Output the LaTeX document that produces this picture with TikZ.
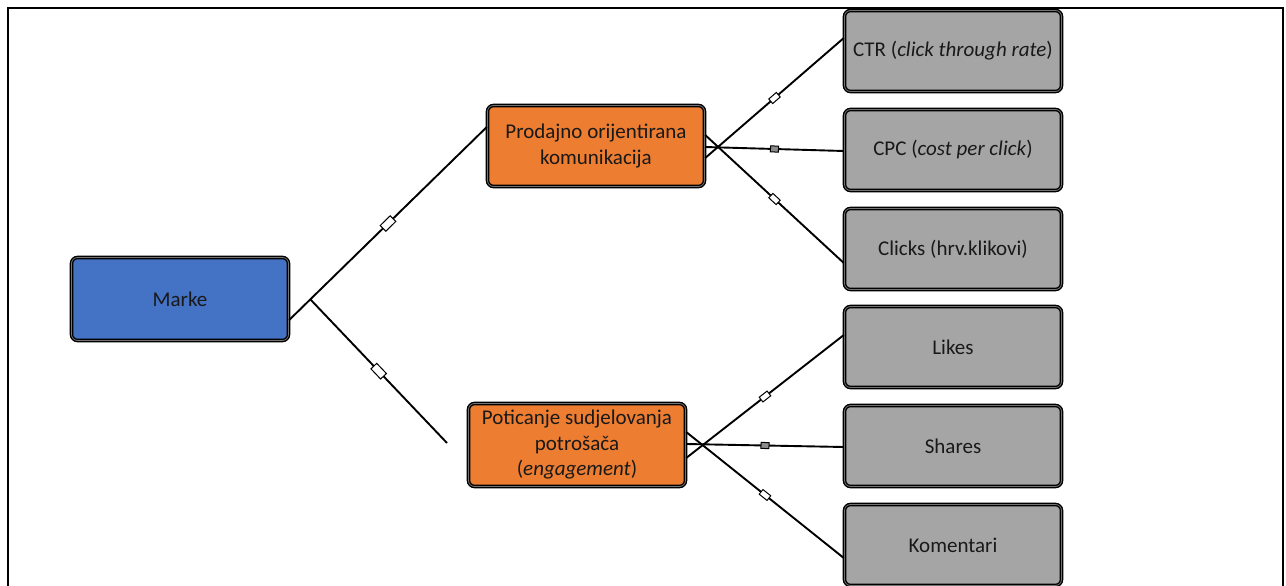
\documentclass[tikz,border=0pt]{standalone}
\usepackage{fontspec}
\setmainfont{Carlito}
\usetikzlibrary{calc,decorations.markings}
\tikzset{
  box/.style={rectangle, rounded corners=6pt, draw=black, line width=1.4pt,
    double=black!55, double distance=0.8pt, minimum width=217pt, minimum height=81pt,
    inner sep=2pt, align=center, text=black!90, font=\fontsize{21}{25.5}\selectfont},
  orangebox/.style={box, fill={rgb,255:red,237;green,125;blue,49}},
  greybox/.style={box, fill={rgb,255:red,165;green,165;blue,165}},
  conn/.style={line width=1.9pt, draw=black},
  bigmark/.style={postaction={decorate}, decoration={markings,
    mark=at position 0.5 with {\node[draw, line width=1pt, fill=white, minimum width=14pt, minimum height=8pt, inner sep=0pt, transform shape]{};}}},
  smallmark/.style={postaction={decorate}, decoration={markings,
    mark=at position 0.5 with {\node[draw, line width=1pt, fill=white, minimum width=10pt, minimum height=6pt, inner sep=0pt, transform shape]{};}}},
  sqmark/.style={postaction={decorate}, decoration={markings,
    mark=at position 0.5 with {\node[draw, line width=1pt, fill=black!45, minimum width=8pt, minimum height=6pt, inner sep=0pt, transform shape]{};}}}
}
\begin{document}
\begin{tikzpicture}[x=1pt, y=-1pt]
\useasboundingbox (0,0) rectangle (1286,586);
\fill[white] (0,0) rectangle (1286,586);
% frame
\draw[line width=1.5pt] (8,590) -- (8,8) -- (1283,8) -- (1283,590);

% nodes
\node[box, fill={rgb,255:red,68;green,114;blue,196}, minimum height=83pt] (M) at (180,299) {Marke};
\node[orangebox] (P) at (596,146) {Prodajno orijentirana\\komunikacija};
\node[orangebox, minimum height=83pt] (E) at (577,445) {Poticanje sudjelovanja\\potrošača\\(\textit{engagement})};
\node[greybox] (C1) at (953,51) {CTR (\textit{click through rate})};
\node[greybox] (C2) at (953,150) {CPC (\textit{cost per click})};
\node[greybox] (C3) at (953,249) {Clicks (hrv.klikovi)};
\node[greybox] (L1) at (953,347) {Likes};
\node[greybox] (L2) at (953,446) {Shares};
\node[greybox] (L3) at (953,545) {Komentari};

% Marke connectors
\coordinate (ms) at ($(M.east)+(0,21)$);
\coordinate (pe) at ($(P.west)+(0,-19)$);
\coordinate (jn) at ($(ms)!0.107!(pe)$);
\coordinate (free) at (447,443);
\draw[conn, bigmark] (ms) -- (pe);
\draw[conn, bigmark] (jn) -- (free);

% Prodajno connectors
\draw[conn, smallmark] ($(P.east)+(0,12)$) -- ($(C1.west)+(0,-13)$);
\draw[conn, sqmark] ($(P.east)+(0,1)$) -- ($(C2.west)+(0,1)$);
\draw[conn, smallmark] ($(P.east)+(0,-11)$) -- ($(C3.west)+(0,14)$);

% Poticanje connectors
\draw[conn, smallmark] ($(E.east)+(0,13)$) -- ($(L1.west)+(0,-12)$);
\draw[conn, sqmark] ($(E.east)+(0,-1)$) -- ($(L2.west)+(0,1)$);
\draw[conn, smallmark] ($(E.east)+(0,-13)$) -- ($(L3.west)+(0,13)$);
\end{tikzpicture}
\end{document}
